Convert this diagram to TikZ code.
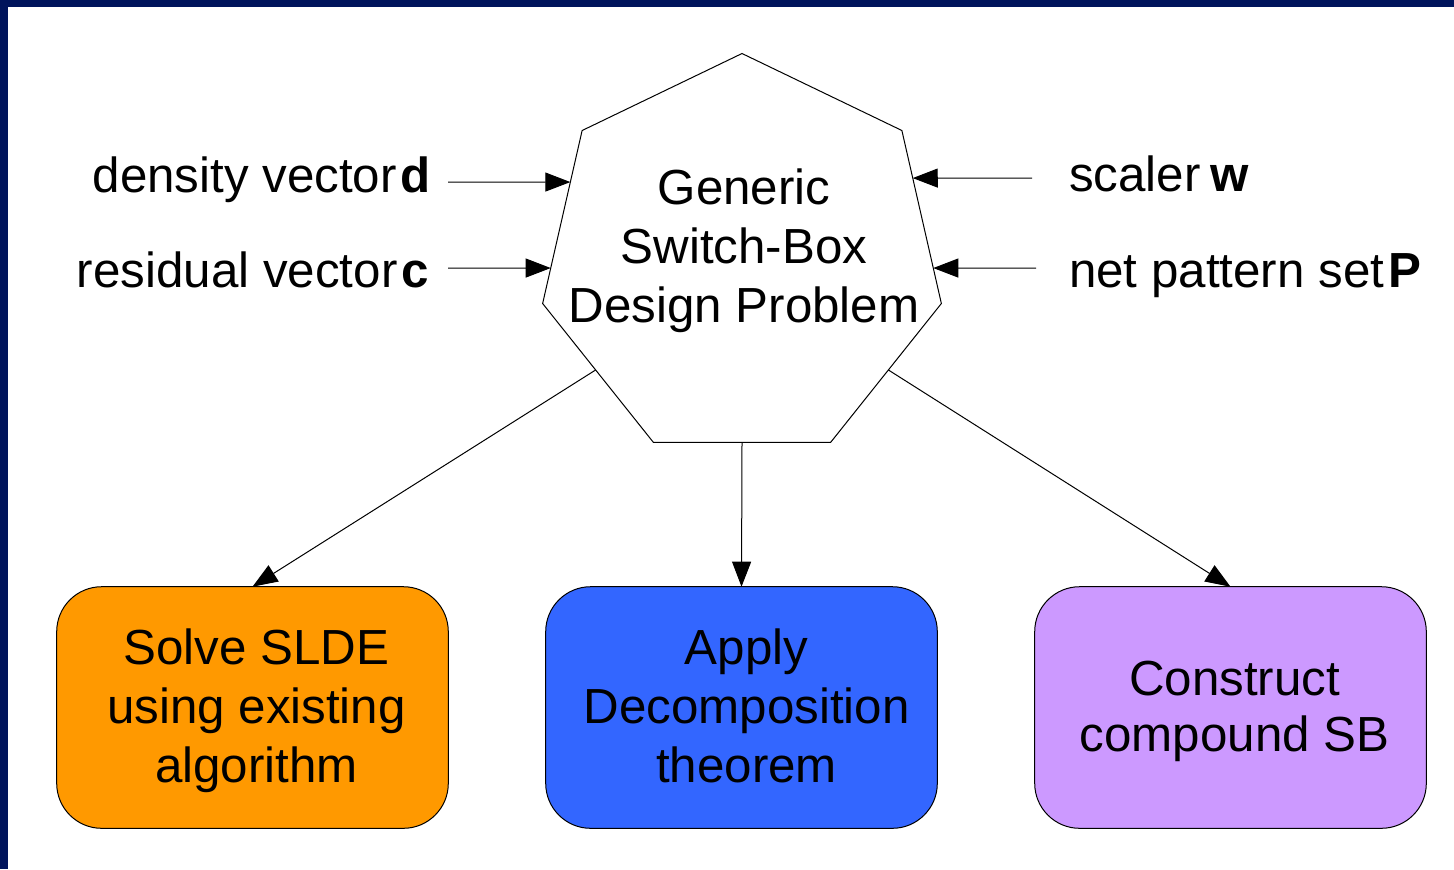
\documentclass[tikz,border=0pt]{standalone}
\usepackage{fontspec}
\setmainfont{Liberation Sans}
\usetikzlibrary{shapes.geometric,arrows.meta,calc}
\definecolor{frame}{RGB}{0,20,92}
\definecolor{orangebox}{RGB}{255,153,0}
\definecolor{bluebox}{RGB}{51,102,255}
\definecolor{violetbox}{RGB}{204,153,255}
\begin{document}
\begin{tikzpicture}[x=0.5pt,y=-0.5pt,
  font=\fontsize{24.65pt}{29.5pt}\selectfont,
  link/.style={line width=0.5pt,-{Triangle[length=12.5pt,width=9.5pt]}},
  lbl/.style={inner sep=0pt,outer sep=0pt,align=center},
  problem/.style={regular polygon,regular polygon sides=7,minimum size=204.5pt,
    draw,line width=0.5pt,inner sep=0pt,outer sep=0pt},
  outcome/.style={rectangle,rounded corners=22.5pt,draw,line width=0.5pt,
    minimum width=195.8pt,minimum height=120.8pt,inner sep=0pt,outer sep=0pt}]

% slide frame
\fill[frame] (0,0) rectangle (1454,869);
\fill[white] (8,7) rectangle (1454,869);
\useasboundingbox (0,0) rectangle (1454,869);

% central problem
\node[problem] (hep) at (742,258) {};
\node[lbl] (heptxt) at (744,251) {Generic\\Switch-Box\\Design Problem};

% inputs
\node[lbl,anchor=base east] (dlab) at (431,192) {density vector\hspace{2pt}\textbf{d}};
\node[lbl,anchor=base east] (clab) at (429,287) {residual vector\hspace{2pt}\textbf{c}};
\node[lbl,anchor=base west] (wlab) at (1069,191) {scaler\hspace{0.2em}\textbf{w}};
\node[lbl,anchor=base west] (plab) at (1069,287) {net pattern set\hspace{2pt}\textbf{P}};

\coordinate (din) at (448,182);
\coordinate (cin) at (448,268);
\coordinate (win) at (1032,178);
\coordinate (pin) at (1036,268);

\draw[link] (din) -- ($(hep.corner 2)!0.298!(hep.corner 3)$);
\draw[link] (cin) -- ($(hep.corner 2)!0.795!(hep.corner 3)$);
\draw[link] (win) -- ($(hep.corner 7)!0.275!(hep.corner 6)$);
\draw[link] (pin) -- ($(hep.corner 7)!0.795!(hep.corner 6)$);

% approaches
\node[outcome,fill=orangebox] (solve) at (252.5,707.5) {};
\node[outcome,fill=bluebox] (apply) at (741.5,707.5) {};
\node[outcome,fill=violetbox] (build) at (1230.5,707.5) {};
\node[lbl] (solvetxt) at ($(solve.center)+(4,3.5)$) {Solve SLDE\\using existing\\algorithm};
\node[lbl] (applytxt) at ($(apply.center)+(5,-1.5)$) {Apply\\Decomposition\\theorem};
\node[lbl,font=\fontsize{24.65pt}{28pt}\selectfont] (buildtxt) at ($(build.center)+(4,3.5)$) {Construct\\compound SB};

\draw[link] ($(hep.corner 3)!0.479!(hep.corner 4)$) -- (solve.north);
\draw[link] (hep.south) -- (apply.north);
\draw[link] ($(hep.corner 6)!0.479!(hep.corner 5)$) -- (build.north);
\end{tikzpicture}
\end{document}
